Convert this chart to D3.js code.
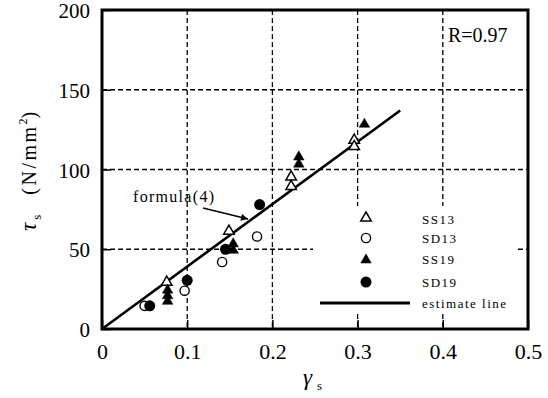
<!DOCTYPE html>
<html><head><meta charset="utf-8">
<script src="https://cdn.jsdelivr.net/npm/d3@7"></script>
<style>
body{margin:0;background:#fff;}
</style></head>
<body>
<svg id="c" width="548" height="398" font-family="Liberation Serif, Times New Roman, Times, serif"></svg>
<script>
const xTicks = [0, 0.1, 0.2, 0.3, 0.4, 0.5];
const yTicks = [0, 50, 100, 150, 200];
const xTickLabels = ["0", "0.1", "0.2", "0.3", "0.4", "0.5"];
const yTickLabels = ["0", "50", "100", "150", "200"];
const SS13 = [[0.076, 30], [0.149, 62], [0.222, 96], [0.222, 90], [0.296, 119], [0.296, 115]];
const SD13 = [[0.050, 14.5], [0.097, 24], [0.141, 42], [0.182, 58]];
const SS19 = [[0.077, 25], [0.077, 21.5], [0.077, 18], [0.154, 54], [0.154, 50], [0.231, 108.5], [0.231, 104], [0.308, 129]];
const SD19 = [[0.056, 14.5], [0.100, 30.5], [0.145, 50], [0.185, 78]];
const estimateLine = [[0, 0], [0.35, 137]];
const legendLabels = ["SS13", "SD13", "SS19", "SD19", "estimate line"];

const FONT = "Liberation Serif, Times New Roman, Times, serif";
const svg = d3.select("#c");
const L = 102, R = 528, T = 10, B = 329;
const x = d3.scaleLinear().domain([0, 0.5]).range([L, R]);
const y = d3.scaleLinear().domain([0, 200]).range([B, T]);

// grid
const g = svg.append("g");
g.selectAll(".vg").data(xTicks.slice(1, -1)).enter().append("line")
  .attr("x1", d => x(d)).attr("x2", d => x(d)).attr("y1", T).attr("y2", B)
  .attr("stroke", "#000").attr("stroke-width", 1.3).attr("stroke-dasharray", "5,3");
g.selectAll(".hg").data(yTicks.slice(1, -1)).enter().append("line")
  .attr("x1", L).attr("x2", R).attr("y1", d => y(d)).attr("y2", d => y(d))
  .attr("stroke", "#000").attr("stroke-width", 1.3).attr("stroke-dasharray", "5,3");

// legend background (covers grid)
svg.append("rect").attr("x", 313).attr("y", 206).attr("width", 203).attr("height", 106).attr("fill", "#fff");

// axes via d3 axis (ticks inward)
const xAxis = d3.axisBottom(x).tickValues(xTicks).tickSize(-9).tickPadding(14)
  .tickFormat((d, i) => xTickLabels[i]);
const ax = svg.append("g").attr("transform", `translate(0,${B})`).call(xAxis);
ax.attr("font-family", null).attr("font-size", 22);
ax.select(".domain").remove();
ax.selectAll("line").attr("stroke", "#000").attr("stroke-width", 1.5);
ax.selectAll("text").attr("fill", "#000").attr("font-family", FONT);

const yAxis = d3.axisLeft(y).tickValues(yTicks).tickSize(-9).tickPadding(12)
  .tickFormat((d, i) => yTickLabels[i]);
const ay = svg.append("g").attr("transform", `translate(${L},0)`).call(yAxis);
ay.attr("font-family", null).attr("font-size", 21);
ay.select(".domain").remove();
ay.selectAll("line").attr("stroke", "#000").attr("stroke-width", 1.5);
ay.selectAll("text").attr("fill", "#000").attr("font-family", FONT).attr("dy", "0.36em");

// frame
svg.append("rect").attr("x", L).attr("y", T).attr("width", R - L).attr("height", B - T)
  .attr("fill", "none").attr("stroke", "#000").attr("stroke-width", 3);

// estimate line
svg.append("path").datum(estimateLine)
  .attr("d", d3.line().x(d => x(d[0])).y(d => y(d[1])))
  .attr("stroke", "#000").attr("stroke-width", 2.6).attr("fill", "none");

// markers
const tri = d3.symbol().type(d3.symbolTriangle).size(48);
function drawTri(data, filled) {
  svg.append("g").selectAll("path").data(data).enter().append("path")
    .attr("d", tri).attr("transform", d => `translate(${x(d[0])},${y(d[1]) + 1})`)
    .attr("fill", filled ? "#000" : "#fff").attr("stroke", "#000").attr("stroke-width", filled ? 0.5 : 1.5);
}
function drawCirc(data, filled) {
  svg.append("g").selectAll("circle").data(data).enter().append("circle")
    .attr("cx", d => x(d[0])).attr("cy", d => y(d[1]))
    .attr("r", filled ? 5.5 : 4.6)
    .attr("fill", filled ? "#000" : "#fff").attr("stroke", "#000").attr("stroke-width", filled ? 0 : 1.4);
}
drawCirc(SD13, false);
drawTri(SS13, false);
drawTri(SS19, true);
drawCirc(SD19, true);

// legend
const lx = 366, rows = [217, 238, 259, 282, 303];
svg.append("path").attr("d", tri).attr("transform", `translate(${lx},${rows[0] + 1})`)
  .attr("fill", "#fff").attr("stroke", "#000").attr("stroke-width", 1.5);
svg.append("circle").attr("cx", lx).attr("cy", rows[1]).attr("r", 4.6)
  .attr("fill", "#fff").attr("stroke", "#000").attr("stroke-width", 1.4);
svg.append("path").attr("d", tri).attr("transform", `translate(${lx},${rows[2] + 1})`)
  .attr("fill", "#000").attr("stroke", "#000").attr("stroke-width", 0.5);
svg.append("circle").attr("cx", lx).attr("cy", rows[3]).attr("r", 5.5).attr("fill", "#000");
svg.append("line").attr("x1", 320).attr("x2", 410).attr("y1", rows[4]).attr("y2", rows[4])
  .attr("stroke", "#000").attr("stroke-width", 3);
svg.append("g").selectAll("text").data(legendLabels).enter().append("text")
  .attr("x", 422).attr("y", (d, i) => rows[i] + 5 + (i === 0 ? 2 : 0))
  .attr("font-family", FONT).attr("font-size", 13).attr("letter-spacing", 1.5).text(d => d);

// R text
svg.append("text").attr("x", 448).attr("y", 42).attr("font-family", FONT).attr("font-size", 20).text("R=0.97");

// formula annotation
svg.append("text").attr("x", 133).attr("y", 202).attr("font-family", FONT).attr("font-size", 16)
  .attr("letter-spacing", 1.3).text("formula(4)");
svg.append("defs").append("marker").attr("id", "ah").attr("viewBox", "0 0 10 10")
  .attr("refX", 10).attr("refY", 5).attr("markerWidth", 9).attr("markerHeight", 7)
  .attr("markerUnits", "userSpaceOnUse").attr("orient", "auto")
  .append("path").attr("d", "M0,0L10,5L0,10Z").attr("fill", "#000");
svg.append("line").attr("x1", 203).attr("y1", 208).attr("x2", 248).attr("y2", 219)
  .attr("stroke", "#000").attr("stroke-width", 1.5).attr("marker-end", "url(#ah)");

// axis titles
const yl = svg.append("text").attr("transform", "translate(36,231) rotate(-90)").attr("font-family", FONT);
yl.append("tspan").attr("font-size", 23).attr("font-style", "italic").text("τ");
yl.append("tspan").attr("font-size", 13).attr("dy", 5).attr("dx", 3).text("s");
yl.append("tspan").attr("font-size", 20).attr("dy", -5).attr("dx", 20).attr("letter-spacing", 2.5).text("(N/mm");
yl.append("tspan").attr("font-size", 12).attr("dy", -9).text("2");
yl.append("tspan").attr("font-size", 20).attr("dy", 9).text(")");

const xl = svg.append("text").attr("x", 303).attr("y", 385).attr("font-family", FONT);
xl.append("tspan").attr("font-size", 23).attr("font-style", "italic").text("γ");
xl.append("tspan").attr("font-size", 13).attr("dy", 5).attr("dx", 5).text("s");
</script>
</body></html>
